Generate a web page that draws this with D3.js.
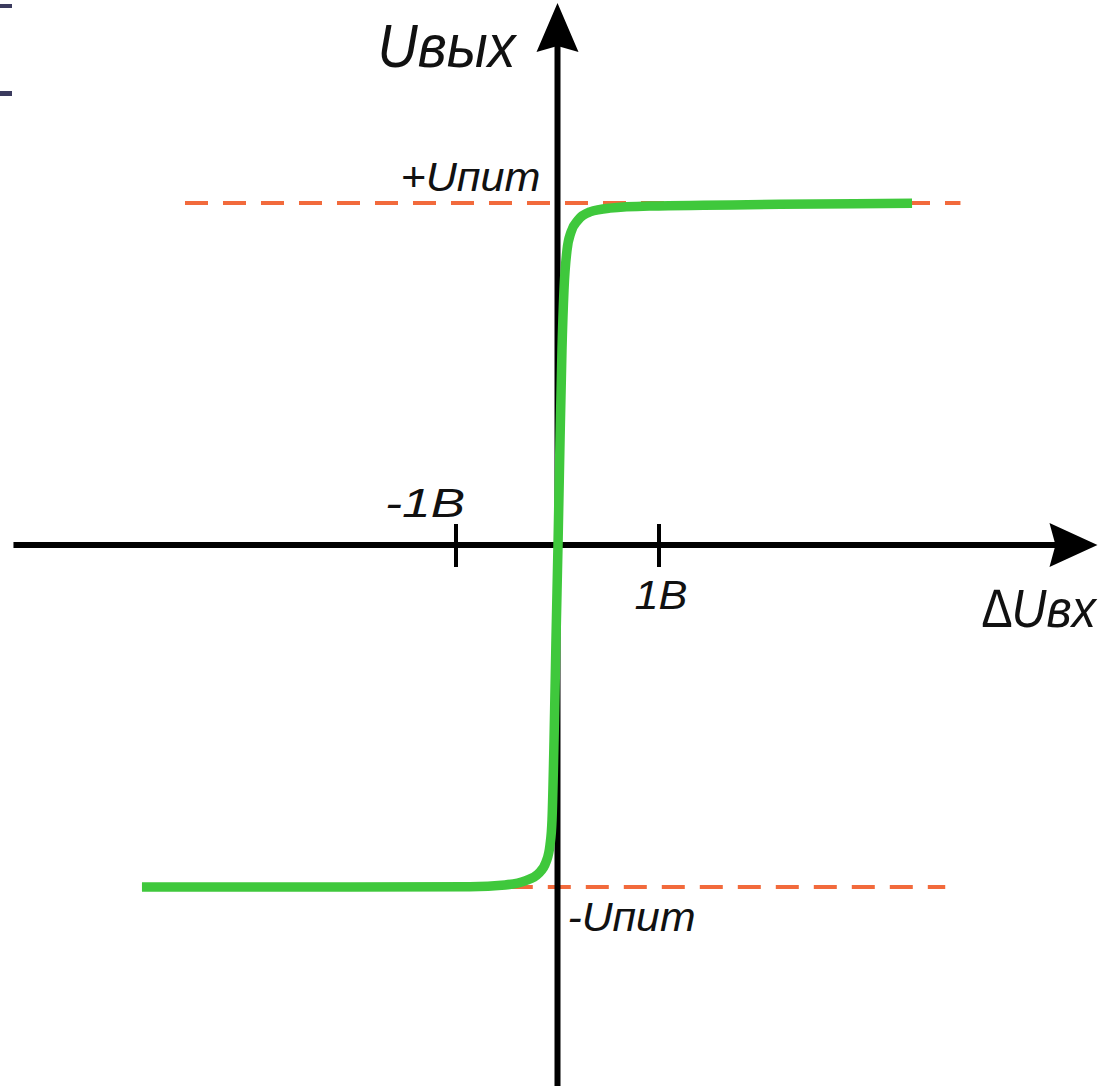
<!DOCTYPE html>
<meta charset="utf-8">
<script src="https://cdn.jsdelivr.net/npm/d3@7"></script>
<style>
  html, body { margin: 0; padding: 0; background: #fff; }
  svg { display: block; }
  .lbl { font-family: "Liberation Sans", Arial, sans-serif; font-style: italic; fill: #111; }
</style>
<div id="chart"></div>

<script>
// передаточная характеристика ОУ: ΔUвх (В) -> Uвых (в долях Uпит)
const inputVolts = [-4.094, -2.044, -0.862, -0.517, -0.320, -0.192, -0.113, -0.074, -0.054,
  -0.034, -0.015, 0.005, 0.025, 0.044, 0.064, 0.094, 0.133, 0.202, 0.320, 0.517, 0.911, 2.192, 3.493];
const outputLevel = [-1.000, -1.000, -0.999, -0.994, -0.982, -0.962, -0.927, -0.877, -0.804,
  -0.570, -0.278, 0.000, 0.307, 0.570, 0.746, 0.863, 0.915, 0.950, 0.974, 0.985, 0.991, 0.996, 0.999];

// уровни насыщения и пределы пунктиров
const supplyLevels = [1, -1];
const supplyLabels = ["+Uпит", "-Uпит"];
const supplyDashX = [[-3.67, 3.97], [-0.47, 3.82]];

// деления оси X
const tickValues = [-1, 1];
const tickLabels = ["-1B", "1B"];

// пределы осей
const xAxisExtent = [-5.36, 5.32];
const yAxisExtent = [-1.582, 1.585];

const width = 1120, height = 1088;

const x = d3.scaleLinear().domain([-1, 1]).range([456, 659]);
const y = d3.scaleLinear().domain([-1, 1]).range([887, 203]);

const svg = d3.select("#chart").append("svg")
  .attr("width", width)
  .attr("height", height);

// метки в левом верхнем углу (остатки слайда)
svg.append("rect").attr("x", 0).attr("y", 4).attr("width", 12).attr("height", 4).attr("fill", "#3b3b5e");
svg.append("rect").attr("x", 0).attr("y", 91).attr("width", 12).attr("height", 5).attr("fill", "#3b3b5e");

// пунктиры уровней питания
svg.append("g")
  .selectAll("line")
  .data(supplyLevels)
  .join("line")
    .attr("x1", (d, i) => x(supplyDashX[i][0]))
    .attr("x2", (d, i) => x(supplyDashX[i][1]))
    .attr("y1", d => y(d))
    .attr("y2", d => y(d))
    .attr("stroke", "#f26a3c")
    .attr("stroke-width", 4)
    .attr("stroke-dasharray", "23,15");

// ось X
const x0 = x(xAxisExtent[0]), x1 = x(xAxisExtent[1]);
svg.append("line")
  .attr("x1", x0).attr("x2", x1 - 40)
  .attr("y1", y(0)).attr("y2", y(0))
  .attr("stroke", "#000").attr("stroke-width", 6);
svg.append("path")
  .attr("d", `M${x1},${y(0)} L${x1 - 48},${y(0) - 22} L${x1 - 42},${y(0)} L${x1 - 48},${y(0) + 22} Z`)
  .attr("fill", "#000");

// ось Y
const yb = y(yAxisExtent[0]), yt = y(yAxisExtent[1]);
svg.append("line")
  .attr("x1", x(0)).attr("x2", x(0))
  .attr("y1", yb).attr("y2", yt + 40)
  .attr("stroke", "#000").attr("stroke-width", 6);
svg.append("path")
  .attr("d", `M${x(0)},${yt} L${x(0) - 21},${yt + 49} L${x(0)},${yt + 43} L${x(0) + 21},${yt + 49} Z`)
  .attr("fill", "#000");

// деления
svg.append("g")
  .selectAll("line")
  .data(tickValues)
  .join("line")
    .attr("x1", d => x(d)).attr("x2", d => x(d))
    .attr("y1", y(0) - 21).attr("y2", y(0) + 22)
    .attr("stroke", "#000").attr("stroke-width", 4);

// кривая
const line = d3.line()
  .x(d => x(d[0]))
  .y(d => y(d[1]))
  .curve(d3.curveMonotoneX);

svg.append("path")
  .datum(inputVolts.map((v, i) => [v, outputLevel[i]]))
  .attr("d", line)
  .attr("fill", "none")
  .attr("stroke", "#3fc83c")
  .attr("stroke-width", 9.5);

// подписи
const lbl = (txt, px, py, size, anchor, len) => {
  const t = svg.append("text").attr("class", "lbl")
    .attr("x", px).attr("y", py)
    .attr("font-size", size)
    .attr("text-anchor", anchor)
    .text(txt);
  if (len) t.attr("textLength", len).attr("lengthAdjust", "spacingAndGlyphs");
  return t;
};

lbl("Uвых", x(0) - 42, 67, 62, "end", 138);
lbl("∆Uвх", 1096, 627, 54, "end", 114);
lbl(supplyLabels[0], x(0) - 17, y(1) - 12, 40, "end", 140);
lbl(supplyLabels[1], x(0) + 10, y(-1) + 44, 40, "start", 128);
lbl(tickLabels[0], x(-1) - 31, 517, 41, "middle", 80);
lbl(tickLabels[1], x(1) + 2, 609, 41, "middle", 53);
</script>
